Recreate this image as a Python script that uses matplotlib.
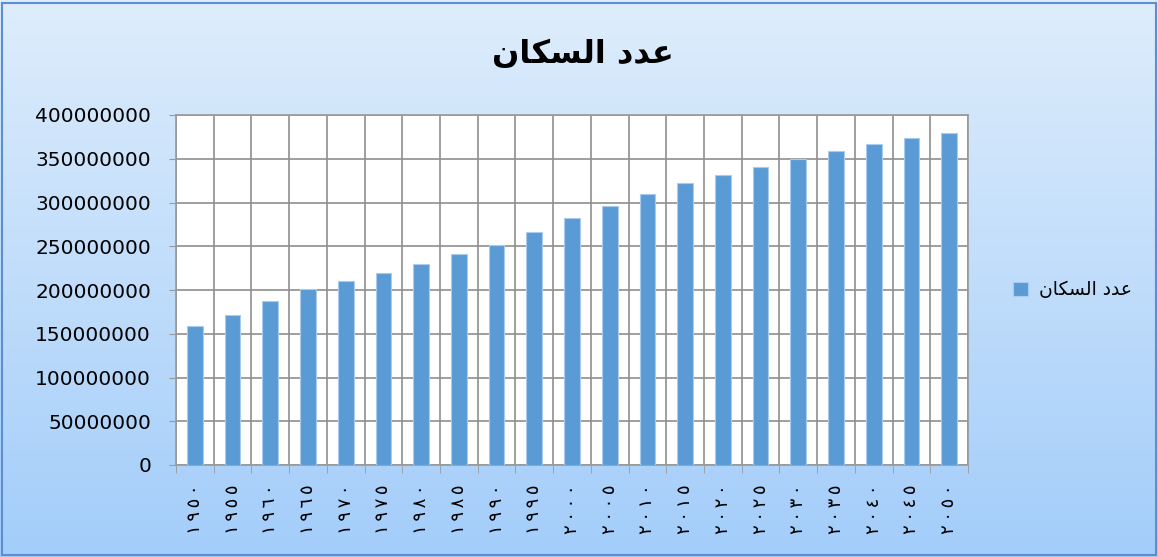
import matplotlib
matplotlib.use("Agg")
import matplotlib.pyplot as plt
import numpy as np
from matplotlib.patches import Rectangle

# ---- data ----
years = [1950, 1955, 1960, 1965, 1970, 1975, 1980, 1985, 1990, 1995, 2000,
         2005, 2010, 2015, 2020, 2025, 2030, 2035, 2040, 2045, 2050]
population = [159e6, 172e6, 187e6, 201e6, 210e6, 220e6, 230e6, 241e6, 252e6, 266e6, 282e6,
              296e6, 310e6, 322e6, 332e6, 341e6, 350e6, 359e6, 367e6, 374e6, 380e6]
yticks = [0, 50000000, 100000000, 150000000, 200000000, 250000000,
          300000000, 350000000, 400000000]

# "عدد السكان" pre-shaped (presentation forms, visual order)
title_text = "\uFEE5\uFE8E\uFEDC\uFEB4\uFEDF\uFE8D \uFEA9\uFEAA\uFECB"

def eastern(n):
    return "\u2009".join(chr(0x0660 + int(c)) for c in str(n))

xlabels = [eastern(y) for y in years]

W, H = 1158, 557
fig = plt.figure(figsize=(W / 100, H / 100), dpi=100)

# background gradient
bg = fig.add_axes([0, 0, 1, 1], zorder=-10)
top = np.array([222, 237, 252]) / 255
bot = np.array([163, 205, 250]) / 255
t = np.linspace(0, 1, 256)[:, None]
grad = top[None, :] * (1 - t) + bot[None, :] * t
bg.imshow(grad[:, None, :], aspect="auto", extent=[0, 1, 0, 1])
bg.set_xlim(0, 1); bg.set_ylim(0, 1)
bg.axis("off")
bg.add_patch(Rectangle((0.002, 0.004), 0.996, 0.99, fill=False,
                       edgecolor="#5b8fcf", linewidth=1.5, transform=bg.transAxes))

ax = fig.add_axes([176 / W, (H - 465) / H, (968 - 176) / W, (465 - 115) / H])
ax.set_facecolor("white")
x = np.arange(len(years))
ax.bar(x, population, width=0.42, color="#5B9BD5", edgecolor="#a9cbee",
       linewidth=0.8, zorder=3, label=title_text)

ax.set_xlim(-0.5, len(years) - 0.5)
ax.set_ylim(0, 400000000)
ax.set_yticks(yticks)
ax.set_yticklabels([str(v) for v in yticks], fontfamily="DejaVu Sans", fontsize=14.5)
ax.set_xticks(x)
ax.set_xticklabels(xlabels, rotation=90, fontfamily="DejaVu Sans", fontsize=13)
ax.set_xticks(np.arange(-0.5, len(years)), minor=True)
ax.tick_params(axis="x", which="major", length=0, pad=14)
ax.tick_params(axis="x", which="minor", length=6, color="#999999", direction="out")
ax.tick_params(axis="y", length=5, color="#999999", pad=13)
ax.grid(axis="y", which="major", color="#8f8f8f", linewidth=1.2, zorder=0)
ax.grid(axis="x", which="minor", color="#8f8f8f", linewidth=1.2, zorder=0)
ax.set_axisbelow(True)
for s in ax.spines.values():
    s.set_color("#999999")
    s.set_linewidth(1.2)

fig.text(583 / W, 1 - 55 / H, title_text, ha="center", va="center",
         fontfamily="DejaVu Sans", fontweight="bold", fontsize=23)

leg = ax.legend(loc="center left", bbox_to_anchor=(1.035, 0.5), frameon=False,
                prop={"family": "DejaVu Sans", "size": 13.5}, handlelength=0.8,
                handleheight=0.8, handletextpad=0.6)

fig.savefig("out.png", dpi=100)
